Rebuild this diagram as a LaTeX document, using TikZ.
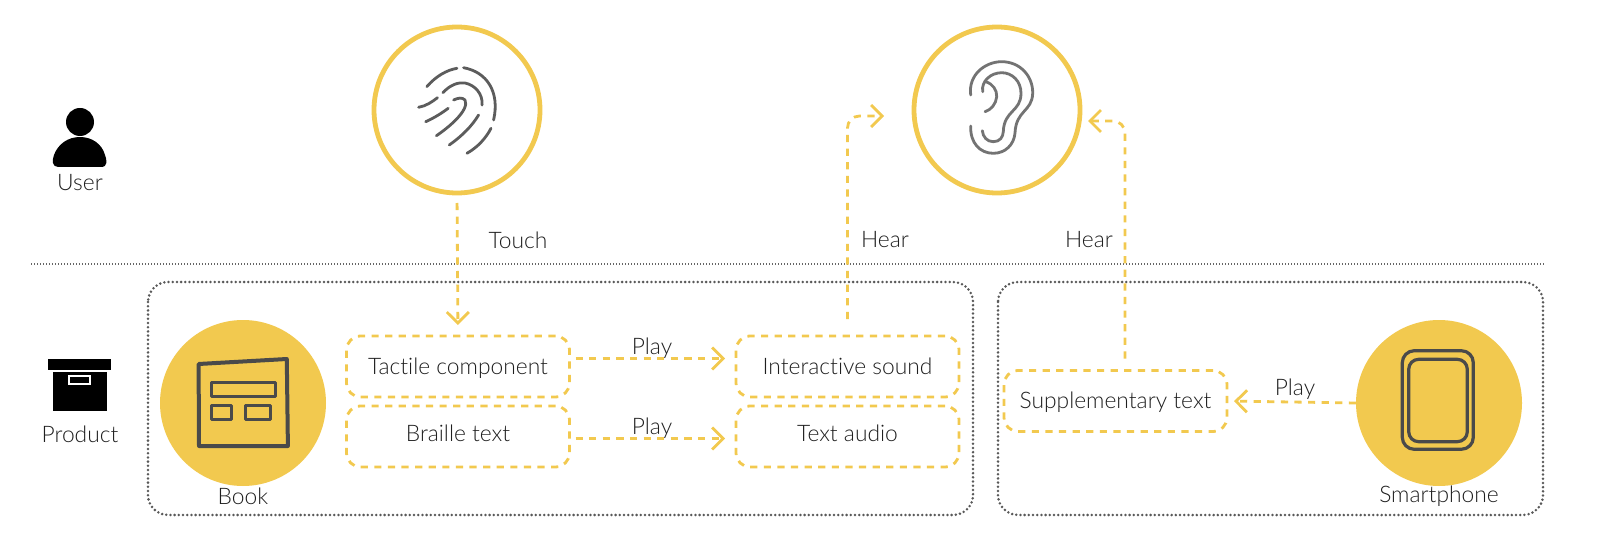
\documentclass[tikz,border=0pt]{standalone}
\usepackage{fontspec}
\setmainfont{Lato}[UprightFont=* Light, Ligatures=NoCommon]
\usetikzlibrary{arrows.meta}
\definecolor{amarelo}{HTML}{F2C94F}
\definecolor{cinza}{HTML}{4A4A4A}
\begin{document}
\begin{tikzpicture}[
    x=0.5pt, y=-0.5pt,
    % Círculos
    nocirc/.style={
        circle, draw=amarelo, line width=2.4pt, fill=white,
        inner sep=0pt, outer sep=0pt, minimum size=83pt
    },
    nocheio/.style={
        circle, fill=amarelo,
        inner sep=0pt, outer sep=0pt, minimum size=83pt
    },
    % Caixas tracejadas
    notrac/.style={
        draw=amarelo, line width=1.4pt, dash pattern=on 3.6pt off 3.2pt,
        rounded corners=7pt, minimum width=111.5pt, minimum height=30.5pt,
        inner sep=0pt, outer sep=0pt, font=\fontsize{11.4}{13}\selectfont,
        text=black!88, text height=10pt, text depth=2.2pt
    },
    % Grupos pontilhados
    grupo/.style={
        draw=black!65, line width=1.4pt, line cap=round,
        dash pattern=on 0pt off 2.1pt, rounded corners=10pt
    },
    rotulo/.style={font=\fontsize{11.4}{13}\selectfont, text=black!88, inner sep=0pt},
    linha/.style={
        draw=amarelo, line width=1.4pt, dash pattern=on 3.6pt off 3.2pt,
        rounded corners=6pt,
        -{Straight Barb[length=5.5pt, width=11pt, line width=1.4pt]}
    },
    traco/.style={draw=#1, line width=1.4pt, line cap=round, line join=round}
]
\useasboundingbox (0,0) rectangle (1600,545);

% ---- DIVISÃO ----
\coordinate (div_a) at (31, 264);
\coordinate (div_b) at (1544, 264);
\draw[draw=black!60, line width=0.8pt, dash pattern=on 0.7pt off 0.8pt] (div_a) -- (div_b);

% ---- USUÁRIO ----
\node[rotulo] (user) at (80, 183) {User};
\fill (80, 122) circle (7pt);
\fill (58, 167) .. controls (52, 167) and (52, 160) .. (54, 155)
    .. controls (58, 144) and (68, 137) .. (80, 137)
    .. controls (92, 137) and (102, 144) .. (105, 155)
    .. controls (107, 160) and (108, 167) .. (101, 167) -- cycle;

% ---- PRODUTO ----
\node[rotulo] (product) at (80, 434.5) {Product};
\fill (48, 359) rectangle (111, 370);
\fill (52.5, 372) rectangle (107, 411);
\draw[white, line width=0.8pt] (69, 376) rectangle (90, 384);

% ---- GRUPOS ----
\draw[grupo] (148, 282) rectangle (973, 515);
\draw[grupo] (998, 282) rectangle (1543, 515);

% ---- CÍRCULOS DE CIMA ----
\node[nocirc] (finger) at (457, 110) {};
\node[nocirc] (ear) at (997, 110) {};

% impressão digital
\draw[traco=cinza!90] (426.8, 86.7) .. controls (436, 76) and (447, 70) .. (457, 68.3);
\draw[traco=cinza!90] (463.6, 67.7) .. controls (487, 72) and (500, 92) .. (493.6, 120);
\draw[traco=cinza!90] (442.9, 92.7) .. controls (450, 85) and (458, 82) .. (465, 83)
    .. controls (475, 85) and (483, 94) .. (482.1, 105);
\draw[traco=cinza!90] (418.6, 107.3) .. controls (426, 106) and (432, 102) .. (437.5, 97.7);
\draw[traco=cinza!90] (425.7, 121.7) .. controls (434, 118) and (442, 113) .. (448.2, 108.3);
\draw[traco=cinza!90] (436.4, 135.7) .. controls (448, 128) and (470, 110) .. (465, 100)
    .. controls (462, 97) and (458, 98) .. (453.6, 100);
\draw[traco=cinza!90] (449.3, 145) .. controls (462, 136) and (472, 126) .. (478.6, 115);
\draw[traco=cinza!90] (467, 153.3) .. controls (478, 147) and (486, 138) .. (491, 128.3);

% orelha
\draw[traco=black!55] (970.7, 95) .. controls (968, 75) and (985, 61.7) .. (1001.7, 61.7)
    .. controls (1020, 61.7) and (1033, 76) .. (1032.7, 93.3)
    .. controls (1032, 112) and (1016, 110) .. (1015, 133)
    .. controls (1014, 145) and (1005, 153.3) .. (993.3, 153.3)
    .. controls (980, 153.3) and (970, 143) .. (970.7, 126);
\draw[traco=black!55] (982.3, 130.7) .. controls (983, 137) and (987, 141.7) .. (993.3, 141.7)
    .. controls (1000, 141.7) and (1003, 137) .. (1003.3, 131.7)
    .. controls (1004, 110) and (1021, 112) .. (1021, 93.3)
    .. controls (1021, 81) and (1012, 72.7) .. (1001.7, 72.7)
    .. controls (991, 72.7) and (981, 81) .. (982.7, 91.7);
\draw[traco=black!55] (985.7, 81.7) .. controls (993, 84) and (997, 90) .. (996.7, 96.7)
    .. controls (996, 104) and (991, 110) .. (985, 111.7);

% ---- LIVRO ----
\node[nocheio] (book) at (243, 403) {};
\node[rotulo] (book_txt) at (243, 496) {Book};
\draw[traco=cinza, line width=2pt] (198.6, 364) -- (286.8, 359) -- (287.9, 446) -- (199, 446) -- cycle;
\draw[traco=cinza, line width=1.5pt] (211.4, 382.7) rectangle (275, 396.7);
\draw[traco=cinza, line width=1.5pt] (211.4, 405.7) rectangle (231.4, 419.3);
\draw[traco=cinza, line width=1.5pt] (245, 405.7) rectangle (270.4, 419.3);

% ---- CELULAR ----
\node[nocheio] (phone) at (1439, 403) {};
\node[rotulo] (phone_txt) at (1439, 496) {Smartphone};
\draw[traco=cinza, line width=1.6pt, rounded corners=6pt] (1402.3, 350.7) rectangle (1473.3, 449.3);
\draw[traco=cinza, line width=1.6pt, rounded corners=5pt] (1408.7, 359.3) rectangle (1467.3, 441.7);

% ---- CAIXAS ----
\node[notrac] (tactile) at (458, 366.5) {Tactile component};
\node[notrac, text height=8pt, text depth=2.8pt] (braille) at (458, 436.5) {Braille text};
\node[notrac] (sound) at (847.5, 366.5) {Interactive sound};
\node[notrac, text height=8pt, text depth=2.8pt] (audio) at (847.5, 436.5) {Text audio};
\node[notrac, text depth=2.7pt] (supp) at (1115.5, 401) {Supplementary text};

% ---- LIGAÇÕES ----
\coordinate (hear_a) at (884, 116);
\coordinate (hear_b) at (1088, 121);

\draw[linha, shorten <=5pt, shorten >=5.5pt] (finger.south) -- (tactile.north);
\draw[linha, shorten <=3pt, shorten >=5.5pt] ([yshift=4pt]tactile.east) -- ([yshift=4pt]sound.west);
\draw[linha, shorten <=3pt, shorten >=5.5pt] ([yshift=-1pt]braille.east) -- ([yshift=-1pt]audio.west);
\draw[linha, shorten <=8.5pt] (sound.north) |- (hear_a);
\draw[linha, shorten <=6pt] ([xshift=4.75pt]supp.north) |- (hear_b);
\draw[linha, shorten >=3.5pt] (phone.west) -- (supp.east);

% ---- RÓTULOS ----
\node[rotulo] (touch_txt) at (518, 240) {Touch};
\node[rotulo] (hear_txt_a) at (885, 240) {Hear};
\node[rotulo] (hear_txt_b) at (1089, 240) {Hear};
\node[rotulo] (play_a) at (652, 348) {Play};
\node[rotulo] (play_b) at (652, 428) {Play};
\node[rotulo] (play_c) at (1295, 389) {Play};
\end{tikzpicture}
\end{document}
